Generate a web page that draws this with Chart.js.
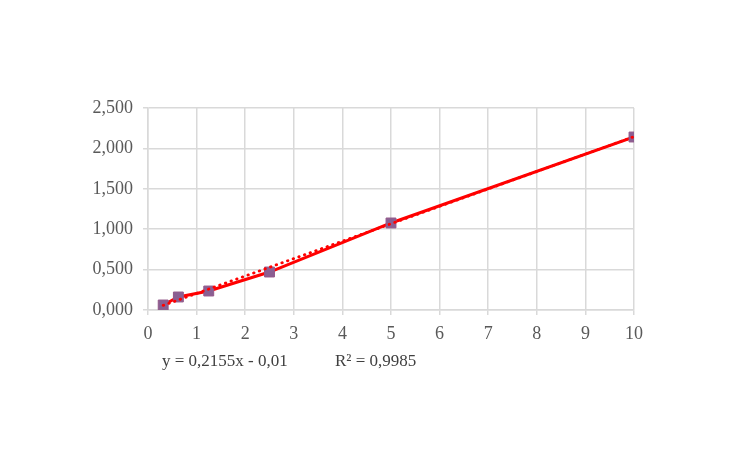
<!DOCTYPE html>
<html lang="ru">
<head>
<meta charset="utf-8">
<title>Калибровочная кривая</title>
<script src="https://cdn.jsdelivr.net/npm/chart.js@4/dist/chart.umd.min.js"></script>
<style>
  html, body { margin: 0; padding: 0; background: #fff; }
  .wrap { position: relative; width: 736px; height: 463px; }
  .eq {
    position: absolute; top: 351px;
    font: 17px "Liberation Serif", "Times New Roman", serif;
    color: #404040; white-space: nowrap;
  }
</style>
</head>
<body>
<div class="wrap">
  <canvas id="c" width="736" height="463"></canvas>
  <div class="eq" style="left:162px">y = 0,2155x - 0,01</div>
  <div class="eq" style="left:335px">R² = 0,9985</div>
</div>
<script>
  // концентрации и отклики
  const conc = [0.3125, 0.625, 1.25, 2.5, 5, 10];
  const signal = [0.062, 0.161, 0.235, 0.470, 1.077, 2.141];

  // линия тренда — концы
  const trendX = [0.3125, 10];
  const trendY = [0.057, 2.145];

  const xTicks = ["0", "1", "2", "3", "4", "5", "6", "7", "8", "9", "10"];
  const yTicks = ["0,000", "0,500", "1,000", "1,500", "2,000", "2,500"];

  const pts = (xs, ys) => xs.map((x, i) => ({ x, y: ys[i] }));
  const font = { family: "'Liberation Serif', 'Times New Roman', serif", size: 18 };
  const grid = "#d9d9d9";

  new Chart(document.getElementById("c"), {
    type: "line",
    data: {
      datasets: [
        {
          label: "trend",
          data: pts(trendX, trendY),
          borderColor: "#ff0000",
          borderWidth: 2.8,
          borderDash: [0.5, 5.5],
          borderCapStyle: "round",
          pointRadius: 0,
          fill: false,
          order: 0,
        },
        {
          label: "signal",
          data: pts(conc, signal),
          borderColor: "#ff0000",
          borderWidth: 3,
          tension: 0,
          pointStyle: "rect",
          pointRadius: 7,
          pointBackgroundColor: "#8a5f93",
          pointBorderColor: "#93598a",
          pointBorderWidth: 1,
          fill: false,
          order: 1,
        },
      ],
    },
    options: {
      responsive: false,
      animation: false,
      layout: { padding: { top: 108, right: 102, bottom: 0, left: 0 } },
      plugins: { legend: { display: false }, tooltip: { enabled: false } },
      scales: {
        x: {
          type: "linear", min: 0, max: 10,
          afterFit: (s) => { s.height = 153; },
          grid: { color: grid, lineWidth: 1.5, tickLength: 5, drawTicks: true },
          border: { color: grid, width: 1.5 },
          ticks: {
            stepSize: 1, color: "#595959", font, padding: 8,
            callback: (v, i) => xTicks[i],
          },
        },
        y: {
          type: "linear", min: 0, max: 2.5,
          afterFit: (s) => { s.width = 148; },
          grid: { color: grid, lineWidth: 1.5, tickLength: 5 },
          border: { color: grid, width: 1.5 },
          ticks: {
            stepSize: 0.5, color: "#595959", font, padding: 10,
            callback: (v, i) => yTicks[i],
          },
        },
      },
    },
  });
</script>
</body>
</html>
